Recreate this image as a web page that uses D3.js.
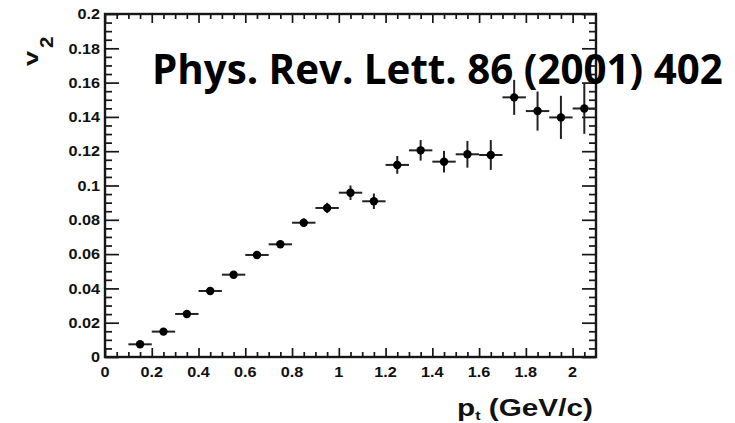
<!DOCTYPE html>
<html>
<head>
<meta charset="utf-8">
<script src="https://cdn.jsdelivr.net/npm/d3@7"></script>
<style>
  body { margin: 0; background: #fff; }
</style>
</head>
<body>
<div id="container"></div>
<script>
/* DATA */
const ptBins = [0.15, 0.25, 0.35, 0.45, 0.55, 0.65, 0.75, 0.85, 0.95, 1.05,
  1.15, 1.25, 1.35, 1.45, 1.55, 1.65, 1.75, 1.85, 1.95, 2.05];
const v2Values = [0.0074, 0.0148, 0.0251, 0.0385, 0.048, 0.0595, 0.0657, 0.0783, 0.0869, 0.0958,
  0.0908, 0.112, 0.1205, 0.1139, 0.1182, 0.1178, 0.1514, 0.1434, 0.1397, 0.1449];
const v2Errors = [0.0012, 0.0013, 0.0014, 0.0015, 0.0017, 0.0019, 0.0021, 0.0025, 0.003, 0.0042,
  0.0045, 0.0052, 0.006, 0.0063, 0.0078, 0.0087, 0.0102, 0.0114, 0.0126, 0.0148];
const ptHalfBin = [0.05, 0.05, 0.05, 0.05, 0.05, 0.05, 0.05, 0.05, 0.05, 0.05,
  0.05, 0.05, 0.05, 0.05, 0.05, 0.05, 0.05, 0.05, 0.05, 0.05];
const xTickValues = [0, 0.2, 0.4, 0.6, 0.8, 1, 1.2, 1.4, 1.6, 1.8, 2];
const xTickLabels = ["0", "0.2", "0.4", "0.6", "0.8", "1", "1.2", "1.4", "1.6", "1.8", "2"];
const yTickValues = [0, 0.02, 0.04, 0.06, 0.08, 0.1, 0.12, 0.14, 0.16, 0.18, 0.2];
const yTickLabels = ["0", "0.02", "0.04", "0.06", "0.08", "0.1", "0.12", "0.14", "0.16", "0.18", "0.2"];
const titleText = "Phys. Rev. Lett. 86 (2001) 402";

const points = ptBins.map((x, i) => ({x: x, y: v2Values[i], ey: v2Errors[i], ex: ptHalfBin[i]}));

/* CONSTANTS */
const width = 735, height = 423;
const frame = {left: 105, right: 596, top: 14, bottom: 357};
const ink = "#161616";
const labelFont = "'Liberation Sans', Arial, sans-serif";

const xScale = d3.scaleLinear().domain([0, 2.1]).range([frame.left, frame.right]);
const yScale = d3.scaleLinear().domain([0, 0.2]).range([frame.bottom, frame.top]);

const svg = d3.select("#container")
  .append("svg")
  .attr("width", width)
  .attr("height", height);

// minor tick positions
const xMinor = d3.range(0, 2.1, 0.05).filter(v => Math.abs(v * 5 - Math.round(v * 5)) > 1e-6);
const yMinor = d3.range(0, 0.2, 0.005).filter(v => Math.abs(v * 50 - Math.round(v * 50)) > 1e-6);

function tickAxis(axisFn, scale, values, size, translate) {
  const g = svg.append("g")
    .attr("transform", translate)
    .call(axisFn(scale).tickValues(values).tickSize(-size).tickFormat(""));
  g.select(".domain").remove();
  g.selectAll("line").attr("stroke", ink).attr("stroke-width", 1.7);
  return g;
}

// ticks, all pointing inwards
tickAxis(d3.axisBottom, xScale, xTickValues, 9, `translate(0,${frame.bottom})`);
tickAxis(d3.axisBottom, xScale, xMinor, 5, `translate(0,${frame.bottom})`);
tickAxis(d3.axisTop, xScale, xTickValues, 9, `translate(0,${frame.top})`);
tickAxis(d3.axisTop, xScale, xMinor, 5, `translate(0,${frame.top})`);
tickAxis(d3.axisLeft, yScale, yTickValues, 14, `translate(${frame.left},0)`);
tickAxis(d3.axisLeft, yScale, yMinor, 7, `translate(${frame.left},0)`);
tickAxis(d3.axisRight, yScale, yTickValues, 14, `translate(${frame.right},0)`);
tickAxis(d3.axisRight, yScale, yMinor, 7, `translate(${frame.right},0)`);

// frame
svg.append("rect")
  .attr("x", frame.left).attr("y", frame.top)
  .attr("width", frame.right - frame.left).attr("height", frame.bottom - frame.top)
  .attr("fill", "none").attr("stroke", ink).attr("stroke-width", 2.4);

// tick labels (stretched a bit horizontally like the original)
svg.selectAll("g.xlab")
  .data(xTickValues)
  .join("g")
  .attr("class", "xlab")
  .attr("transform", d => `translate(${xScale(d)},377) scale(1.12,1)`)
  .append("text")
  .attr("text-anchor", "middle")
  .attr("font-family", labelFont).attr("font-weight", "bold").attr("font-size", 14.5)
  .attr("fill", "#111")
  .text((d, i) => xTickLabels[i]);

svg.selectAll("g.ylab")
  .data(yTickValues)
  .join("g")
  .attr("class", "ylab")
  .attr("transform", d => `translate(100,${yScale(d)}) scale(1.12,1)`)
  .append("text")
  .attr("text-anchor", "end")
  .attr("y", 5.2)
  .attr("font-family", labelFont).attr("font-weight", "bold").attr("font-size", 14.5)
  .attr("fill", "#111")
  .text((d, i) => yTickLabels[i]);

// data points with error bars
const pts = svg.append("g");
pts.selectAll("line.ex")
  .data(points)
  .join("line")
  .attr("class", "ex")
  .attr("x1", d => xScale(d.x - d.ex)).attr("x2", d => xScale(d.x + d.ex))
  .attr("y1", d => yScale(d.y)).attr("y2", d => yScale(d.y))
  .attr("stroke", "#222").attr("stroke-width", 2);
pts.selectAll("line.ey")
  .data(points)
  .join("line")
  .attr("class", "ey")
  .attr("x1", d => xScale(d.x)).attr("x2", d => xScale(d.x))
  .attr("y1", d => yScale(d.y - d.ey)).attr("y2", d => yScale(d.y + d.ey))
  .attr("stroke", "#222").attr("stroke-width", 2);
pts.selectAll("circle")
  .data(points)
  .join("circle")
  .attr("cx", d => xScale(d.x)).attr("cy", d => yScale(d.y))
  .attr("r", 4.2)
  .attr("fill", "#000");

// axis titles
svg.append("g")
  .attr("transform", "translate(38,66) rotate(-90) scale(1.3,1)")
  .append("text")
  .attr("font-family", labelFont).attr("font-weight", "bold").attr("font-size", 21)
  .attr("fill", "#111")
  .text("v");
svg.append("g")
  .attr("transform", "translate(53,48) rotate(-90) scale(1.15,1)")
  .append("text")
  .attr("font-family", labelFont).attr("font-weight", "bold").attr("font-size", 18)
  .attr("fill", "#111")
  .text("2");

// stretch a text group so it spans the target width
function fitWidth(g, x0, target) {
  const w = g.node().getBBox().width;
  g.attr("transform", `translate(${x0},0) scale(${target / w},1)`);
}

const ptLabel = svg.append("g");
const ptText = ptLabel.append("text")
  .attr("y", 416)
  .attr("font-family", labelFont).attr("font-weight", "bold").attr("font-size", 24)
  .attr("fill", "#111");
ptText.append("tspan").text("p");
ptText.append("tspan").attr("font-size", 13).attr("dy", 4).text("t");
ptText.append("tspan").attr("dy", -4).text(" (GeV/c)");
fitWidth(ptLabel, 457, 136);

// reference title on top of everything
const title = svg.append("g");
title.append("text")
  .attr("y", 84)
  .attr("font-family", "'Open Sans', 'Noto Sans', sans-serif")
  .attr("font-weight", "bold").attr("font-size", 41)
  .attr("fill", "#000")
  .text(titleText);
fitWidth(title, 152, 571);
</script>
</body>
</html>
